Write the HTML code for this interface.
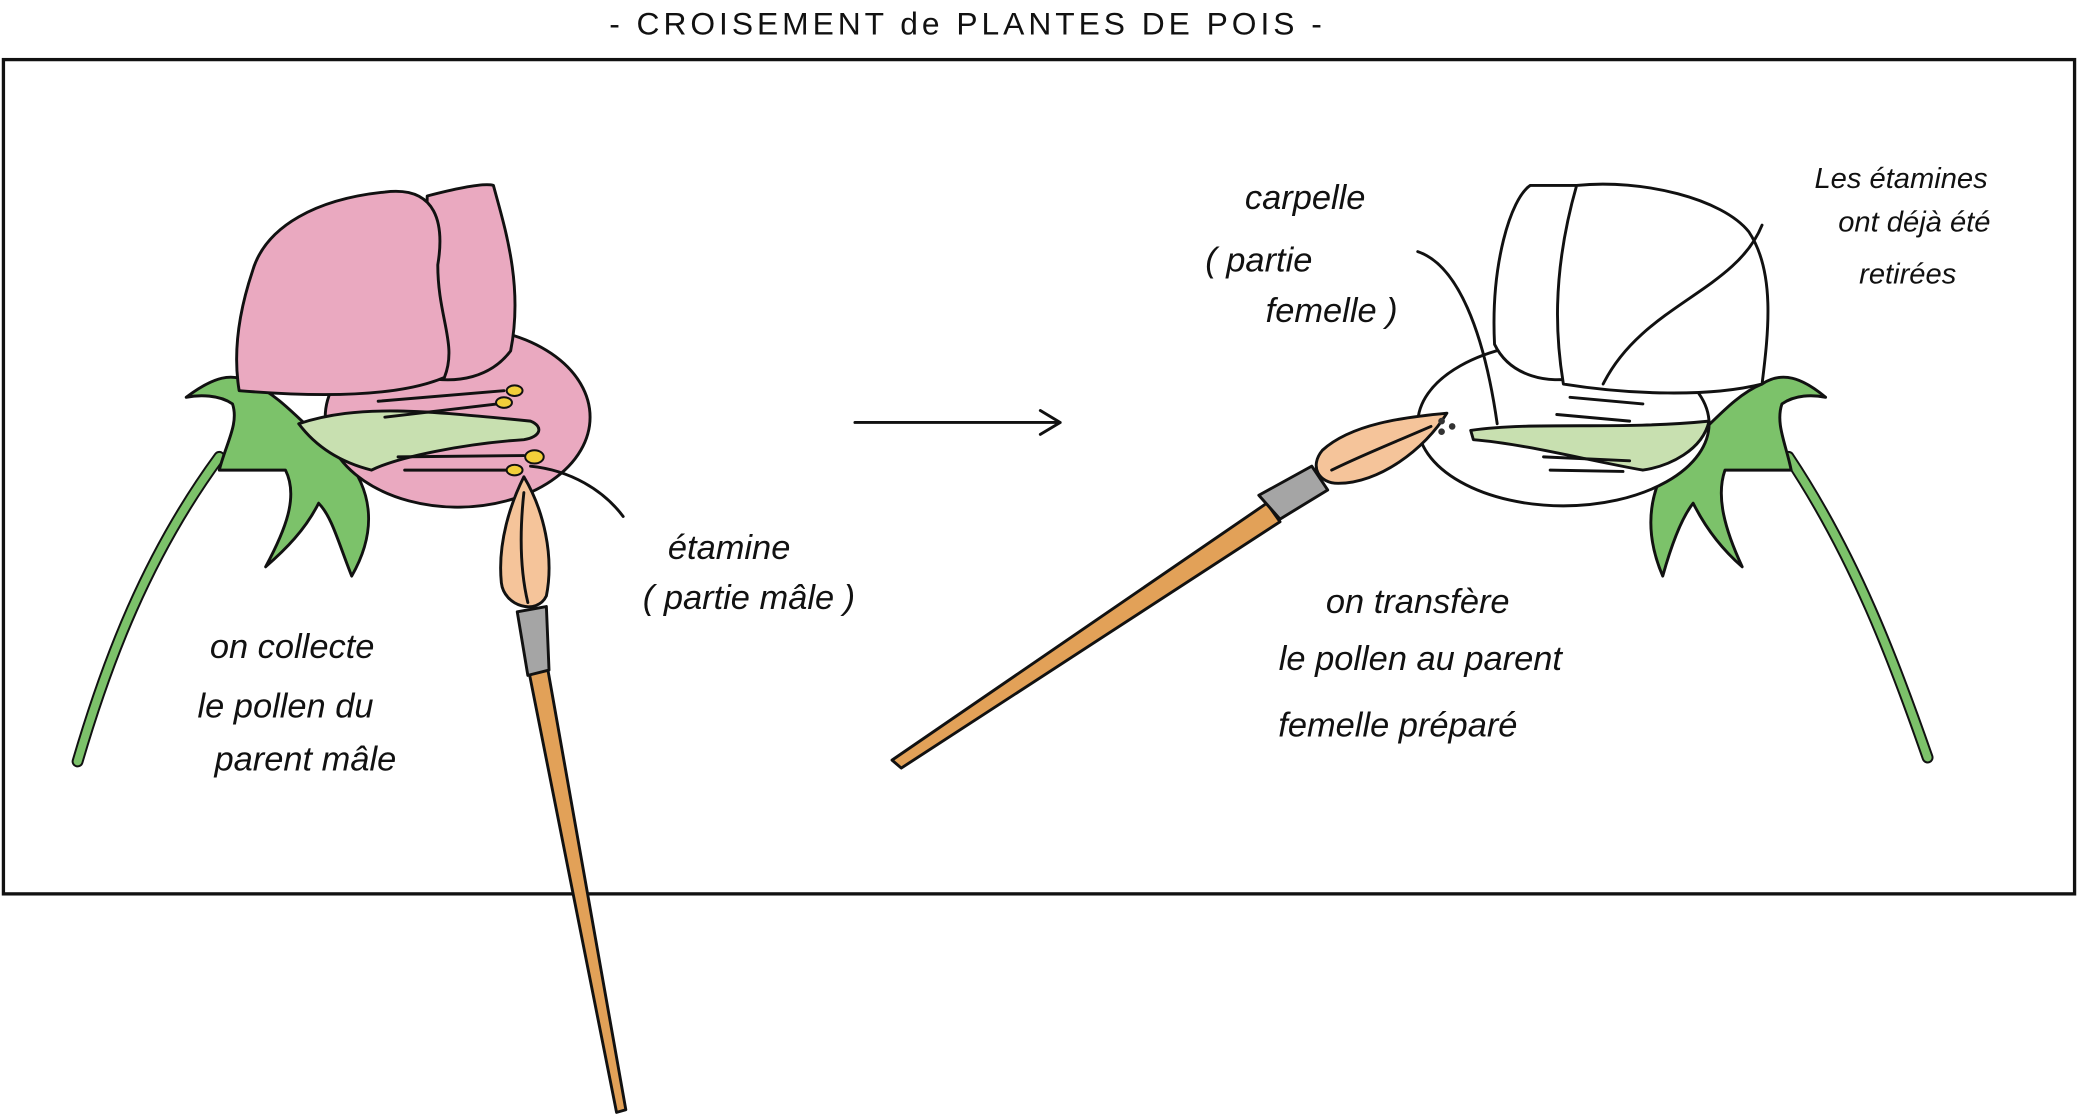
<!DOCTYPE html>
<html><head><meta charset="utf-8"><style>
html,body{margin:0;padding:0;background:#fff;}
svg{display:block;}
text{font-family:"Liberation Sans",sans-serif;font-style:italic;fill:#111;}
</style></head><body>
<svg width="2078" height="1119" viewBox="0 0 1568 845" xmlns="http://www.w3.org/2000/svg">
<text x="730" y="26" font-size="24" font-style="normal" text-anchor="middle" letter-spacing="3" style="font-style:normal">- CROISEMENT de PLANTES DE POIS -</text>
<rect x="2" y="45" width="1564" height="630" fill="#fff" stroke="#111" stroke-width="2.5"/>

<g stroke="#111" stroke-width="2.2" stroke-linejoin="round" stroke-linecap="round">
<path d="M165,345 C110,420 80,500 58,575" fill="none" stroke="#111" stroke-width="9"/>
<path d="M165,345 C110,420 80,500 58,575" fill="none" stroke="#7cc26a" stroke-width="6"/>
<path d="M140,300 C160,285 175,280 190,290 C215,300 235,330 260,345 C280,370 285,400 265,435 C255,410 250,390 240,380 C230,400 215,415 200,428 C215,400 225,375 215,355 C200,355 185,355 165,355 C170,335 180,320 175,305 C165,298 150,298 140,300 Z" fill="#7cc26a"/>
<ellipse cx="345" cy="315" rx="100" ry="68" fill="#eaa9c0"/>
<path d="M322,148 C345,142 365,138 372,140 C380,170 395,215 385,265 C370,285 345,290 320,285 Z" fill="#eaa9c0"/>
<path d="M190,205 C200,170 240,150 290,145 C330,140 335,170 330,200 C330,240 345,260 335,285 C300,300 240,300 180,295 C175,265 180,235 190,205 Z" fill="#eaa9c0"/>
<path d="M225,320 C270,305 320,310 400,318 C410,322 408,330 395,332 C350,335 300,345 280,355 C260,350 240,340 225,320 Z" fill="#c8e0b0"/>
<path d="M285,303 L380,295 M290,315 L375,305 M300,345 L395,344 M305,355 L385,355 M400,352 C430,355 455,370 470,390" fill="none"/>
<g fill="#f2cf3a" stroke-width="1.5"><ellipse cx="388" cy="295" rx="6" ry="4"/><ellipse cx="380" cy="304" rx="6" ry="4"/><ellipse cx="403" cy="345" rx="7" ry="5"/><ellipse cx="388" cy="355" rx="6" ry="4"/></g>
<path d="M399,508 L413,505 L472,838 L465,840 Z" fill="#e2a158"/>
<path d="M390,462 L412,458 L414,506 L398,510 Z" fill="#a5a5a5"/>
<path d="M395,360 C385,380 375,410 378,440 C380,458 405,465 412,450 C418,420 410,385 395,360 Z" fill="#f5c49a"/>
<path d="M395,372 C392,400 392,430 398,455" fill="none"/>
<path d="M645,319 L800,319 M785,310 L800,319 L785,328" fill="none"/>

<path d="M1350,345 C1400,420 1430,500 1455,572" fill="none" stroke="#111" stroke-width="9"/>
<path d="M1350,345 C1400,420 1430,500 1455,572" fill="none" stroke="#7cc26a" stroke-width="6"/>
<path d="M1378,300 C1360,285 1345,280 1330,290 C1305,300 1285,330 1262,345 C1245,370 1240,400 1255,435 C1262,410 1270,390 1278,380 C1288,400 1300,415 1315,428 C1302,400 1295,375 1302,355 C1318,355 1335,355 1352,355 C1348,335 1340,320 1345,305 C1355,298 1368,298 1378,300 Z" fill="#7cc26a"/>
<ellipse cx="1180" cy="320" rx="110" ry="62" fill="#fff"/>
<path d="M1155,140 C1140,150 1125,200 1128,260 C1140,285 1170,290 1190,285 L1190,140 Z" fill="#fff"/>
<path d="M1190,140 C1240,135 1300,150 1320,175 C1340,205 1335,250 1330,290 C1290,300 1230,298 1180,290 C1175,260 1170,210 1190,140 Z" fill="#fff"/>
<path d="M1110,325 C1160,318 1220,325 1290,318 C1285,340 1260,352 1240,355 C1200,348 1150,335 1112,332 Z" fill="#c8e0b0"/>
<path d="M1185,300 L1240,305 M1175,313 L1230,318 M1165,345 L1230,348 M1170,355 L1225,356 M1070,190 C1100,200 1120,250 1130,320 M1330,170 C1310,220 1240,230 1210,290" fill="none"/>
<path d="M956,380 L966,394 L680,580 L673,574 Z" fill="#e2a158"/>
<path d="M950,374 L990,352 L1002,370 L966,392 Z" fill="#a5a5a5"/>
<path d="M1092,312 C1060,315 1020,320 998,340 C988,352 995,365 1010,365 C1040,365 1075,340 1092,312 Z" fill="#f5c49a"/>
<path d="M1080,322 C1050,335 1025,345 1005,355" fill="none"/>
<g fill="#333" stroke="none"><circle cx="1088" cy="318" r="2.5"/><circle cx="1096" cy="322" r="2.5"/><circle cx="1088" cy="326" r="2.5"/></g>
</g>

<g font-size="26">
<text x="550" y="422" text-anchor="middle">étamine</text>
<text x="565" y="460" text-anchor="middle">( partie mâle )</text>
<text x="220" y="497" text-anchor="middle">on collecte</text>
<text x="215" y="542" text-anchor="middle">le pollen du</text>
<text x="230" y="582" text-anchor="middle">parent mâle</text>
<text x="985" y="158" text-anchor="middle">carpelle</text>
<text x="950" y="205" text-anchor="middle">( partie</text>
<text x="1005" y="243" text-anchor="middle">femelle )</text>
<text x="1070" y="463" text-anchor="middle">on transfère</text>
<text x="1072" y="506" text-anchor="middle">le pollen au parent</text>
<text x="1055" y="556" text-anchor="middle">femelle préparé</text>
</g>
<g font-size="22">
<text x="1435" y="142" text-anchor="middle">Les étamines</text>
<text x="1445" y="175" text-anchor="middle">ont déjà été</text>
<text x="1440" y="214" text-anchor="middle">retirées</text>
</g>
</svg>
</body></html>
